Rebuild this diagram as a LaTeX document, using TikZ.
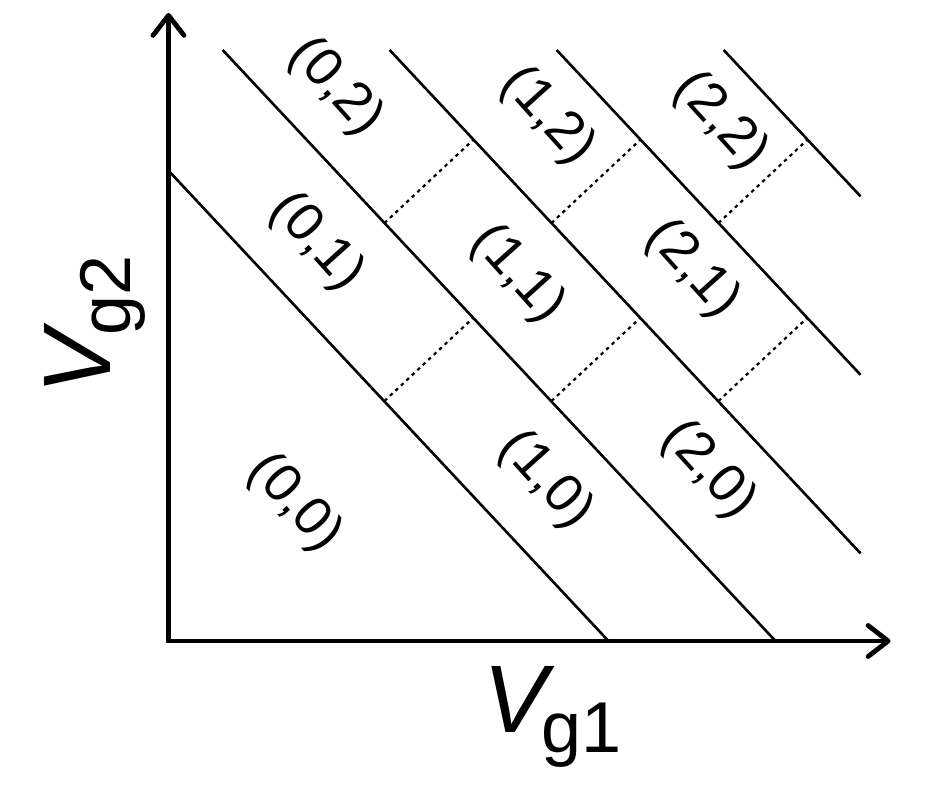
\documentclass[tikz,border=0pt]{standalone}
\usepackage{fontspec}
\setmainfont{Liberation Sans}
\usetikzlibrary{arrows.meta}

\tikzset{
  barb/.tip={Straight Barb[length=20pt,width=31pt,round]},
  axis/.style={line width=4.8pt, barb-barb},
  level/.style={line width=2.6pt},
  split/.style={line width=2.2pt, dash pattern=on 3.5pt off 4pt},
  occ/.style={font=\fontsize{54}{54}\selectfont, rotate=-48, inner sep=0pt},
  gate/.style={font=\fontsize{96}{96}\selectfont, inner sep=0pt, anchor=base},
}

\newcommand{\gatelabel}[1]{\textit{V}\kern-13pt\raisebox{-20pt}{\fontsize{72}{72}\selectfont g#1}}

\begin{document}
\begin{tikzpicture}[x=1pt,y=1pt]

\useasboundingbox (-168.5,-151) rectangle (780.5,641);

%---------------------------------------
% Shared functions
%---------------------------------------
\def\slope{1.069}
\pgfmathdeclarefunction{lineY}{2}{\pgfmathparse{(#1-#2)*\slope}}   % y on level line
\pgfmathdeclarefunction{lineX}{2}{\pgfmathparse{#1-#2/\slope}}     % x on level line

% level lines (x-intercepts)
\def\cA{440}
\def\cB{607}
\def\cC{774}
\def\cD{941}
\def\cE{1108}
\def\gap{167}

\def\ytop{591}
\def\xend{692}

% Axes
\coordinate (O) at (0,0);
\coordinate (ytip) at (0,628);
\coordinate (xtip) at (722,0);
\draw[axis] (ytip) -- (O) -- (xtip);

\node[gate] (vg1) at (384,-91) {\gatelabel{1}};
\node[gate, rotate=90] (vg2) at (-58,316) {\gatelabel{2}};

% Charge transition lines
\draw[level] (0,{lineY(\cA,0)}) -- (\cA,0);
\draw[level] ({lineX(\cB,\ytop)},\ytop) -- (\cB,0);
\draw[level] ({lineX(\cC,\ytop)},\ytop) -- (\xend,{lineY(\cC,\xend)});
\draw[level] ({lineX(\cD,\ytop)},\ytop) -- (\xend,{lineY(\cD,\xend)});
\draw[level] ({lineX(\cE,\ytop)},\ytop) -- (\xend,{lineY(\cE,\xend)});

% Interdot transitions
\foreach \j in {0,1,2} {
  \draw[split] ({216+\gap*\j},418) -- ++(89,83.4);
  \draw[split] ({216+\gap*\j},240) -- ++(89,83.4);
}

% Occupation labels
\node[occ] (n00) at (126,138) {(0,0)};
\node[occ] (n01) at (148,399) {(0,1)};
\node[occ] (n02) at (167,554) {(0,2)};
\node[occ] (n10) at (377,161) {(1,0)};
\node[occ] (n11) at (349,367) {(1,1)};
\node[occ] (n12) at (379,525) {(1,2)};
\node[occ] (n20) at (540,171) {(2,0)};
\node[occ] (n21) at (524,372) {(2,1)};
\node[occ] (n22) at (552,520) {(2,2)};

\end{tikzpicture}
\end{document}
